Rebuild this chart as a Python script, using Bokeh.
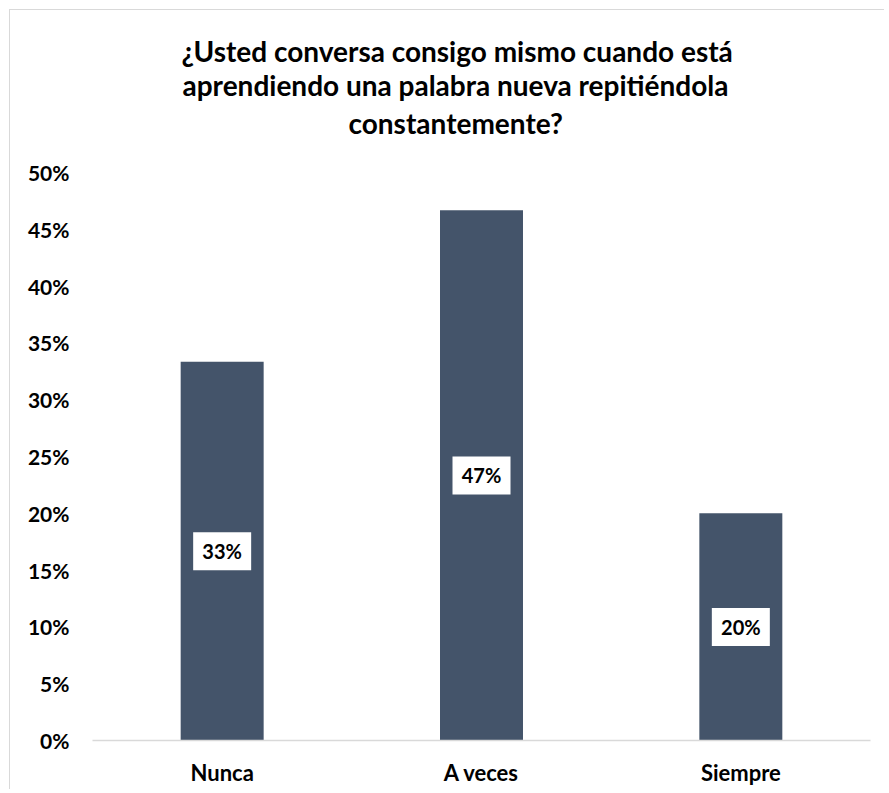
from bokeh.plotting import figure
from bokeh.models import Title, FixedTicker, NumeralTickFormatter, Range1d, ColumnDataSource
from bokeh.core.properties import value
from bokeh.embed import file_html
from bokeh.resources import INLINE

categories = ["Nunca", "A veces", "Siempre"]
shares = [0.3333, 0.4667, 0.2000]
share_labels = ["33%", "47%", "20%"]
y_ticks = [0.0, 0.05, 0.10, 0.15, 0.20, 0.25, 0.30, 0.35, 0.40, 0.45, 0.50]
title_lines = ["¿Usted conversa consigo mismo cuando está",
               "aprendiendo una palabra nueva repitiéndola",
               "constantemente?"]

FONT = "Lato"
BAR = "#44546A"

src = ColumnDataSource(dict(cat=categories, val=shares, lab=share_labels,
                            mid=[v / 2 for v in shares]))

p = figure(x_range=categories, y_range=Range1d(0, 0.5),
           width=875, height=780, output_backend="svg", toolbar_location=None,
           min_border_left=82, min_border_right=15, min_border_top=162, min_border_bottom=50)
p.margin = (9, 0, 0, 9)
p.styles = {"border-top": "1px solid #d9d9d9", "border-left": "1px solid #d9d9d9"}

# title: p.title is outermost line, added titles stack toward the plot
p.title.text = title_lines[0]
p.title.align = "left"
p.title.offset = 89
p.title.text_font = FONT
p.title.text_font_size = "28px"
p.title.text_font_style = "bold"
p.title.text_color = "#000000"
p.title.standoff = -4
# spacer between title block and plot area
p.add_layout(Title(text=" ", text_font_size="1px", standoff=28), "above")
for line, so, off in [(title_lines[2], 4, 256), (title_lines[1], 0, 90)]:
    t = Title(text=line, align="left", offset=off, text_font=FONT, text_font_size="28px",
              text_font_style="bold", text_color="#000000", standoff=so)
    p.add_layout(t, "above")

p.vbar(x="cat", top="val", width=0.32, source=src, fill_color=BAR, line_color=None)

p.rect(x="cat", y="mid", width=58, height=38, width_units="screen", height_units="screen",
       source=src, fill_color="white", line_color=None)
p.text(x="cat", y="mid", text="lab", source=src, text_align="center", text_baseline="middle",
       text_font=value(FONT), text_font_size="20px", text_font_style="bold", text_color="#000000")

p.xgrid.grid_line_color = None
p.ygrid.grid_line_color = None
p.outline_line_color = None

p.yaxis.ticker = FixedTicker(ticks=y_ticks)
p.yaxis.formatter = NumeralTickFormatter(format="0%")
p.yaxis.axis_line_color = None
p.yaxis.major_tick_line_color = None
p.yaxis.minor_tick_line_color = None
p.yaxis.major_label_standoff = 17
p.yaxis.major_label_text_font = FONT
p.yaxis.major_label_text_font_size = "21px"
p.yaxis.major_label_text_font_style = "bold"
p.yaxis.major_label_text_color = "#000000"

p.xaxis.axis_line_color = "#D9D9D9"
p.xaxis.axis_line_width = 1.5
p.xaxis.major_tick_line_color = None
p.xaxis.minor_tick_line_color = None
p.xaxis.major_label_standoff = 12
p.xaxis.major_label_text_font = FONT
p.xaxis.major_label_text_font_size = "22px"
p.xaxis.major_label_text_font_style = "bold"
p.xaxis.major_label_text_color = "#000000"

open("out.html", "w").write(file_html(p, INLINE))
